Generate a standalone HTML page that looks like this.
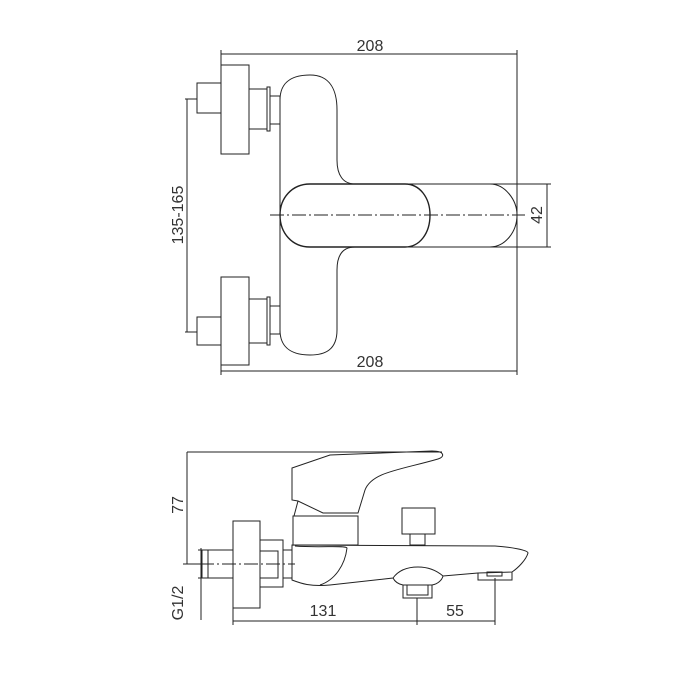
<!DOCTYPE html>
<html><head><meta charset="utf-8"><style>
html,body{margin:0;padding:0;background:#fff;}
svg{display:block;}
text{font-family:"Liberation Sans",sans-serif;font-size:16px;fill:#333;}
</style></head><body>
<svg width="700" height="700" viewBox="0 0 700 700" xmlns="http://www.w3.org/2000/svg">
<g fill="none" stroke="#222" stroke-width="1">
<line x1="221" y1="54" x2="517" y2="54"/>
<line x1="221" y1="50" x2="221" y2="65"/>
<line x1="517" y1="50" x2="517" y2="375"/>
<line x1="221" y1="371" x2="517" y2="371"/>
<line x1="221" y1="365" x2="221" y2="375"/>
<line x1="187" y1="99" x2="187" y2="332"/>
<line x1="185" y1="99" x2="197" y2="99"/>
<line x1="185" y1="332" x2="197" y2="332"/>
<line x1="547" y1="184" x2="547" y2="247"/>
<line x1="490" y1="184" x2="551" y2="184"/>
<line x1="482" y1="247" x2="551" y2="247"/>
<rect x="197" y="83" width="24" height="30"/>
<rect x="221" y="65" width="28" height="89"/>
<rect x="249" y="89" width="18" height="40"/>
<rect x="267" y="87" width="3" height="44"/>
<rect x="270" y="96" width="10" height="28"/>
<rect x="197" y="317" width="24" height="28"/>
<rect x="221" y="277" width="28" height="88"/>
<rect x="249" y="299" width="18" height="44"/>
<rect x="267" y="297" width="3" height="48"/>
<rect x="270" y="306" width="10" height="28"/>
<path d="M280 100 C280 80 295 75 310 75 C330 75 337 90 337 110 L337 160 C337 175 343 184 355 184 L490 184 C505 184 517 200 517 215 C517 232 505 247 490 247 L355 247 C343 247 337 255 337 270 L337 330 C337 350 325 355 310 355 C295 355 280 350 280 330 Z"/>
<path d="M310 184 L405 184 C420 184 430 198 430 215 C430 233 420 247 405 247 L310 247 C292 247 280 233 280 215 C280 198 292 184 310 184 Z" stroke-width="1.4"/>
<line x1="270" y1="215" x2="525" y2="215" stroke-dasharray="14,3,2,3"/>

<line x1="187" y1="452" x2="442" y2="452"/>
<line x1="187" y1="452" x2="187" y2="564"/>
<line x1="183" y1="564" x2="200" y2="564"/>
<line x1="201" y1="548" x2="201" y2="620"/>
<line x1="198" y1="550" x2="206" y2="550"/>
<line x1="198" y1="578" x2="206" y2="578"/>
<line x1="233" y1="605" x2="233" y2="625"/>
<line x1="233" y1="621" x2="495" y2="621"/>
<line x1="417" y1="598" x2="417" y2="625"/>
<line x1="495" y1="578" x2="495" y2="625"/>
<rect x="202" y="550" width="6" height="28"/>
<rect x="208" y="550" width="25" height="28"/>
<rect x="233" y="521" width="27" height="87"/>
<rect x="260" y="540" width="23" height="47"/>
<rect x="260" y="551" width="18" height="27"/>
<rect x="283" y="550" width="9" height="28"/>
<line x1="200" y1="564" x2="295" y2="564" stroke-dasharray="14,3,2,3"/>
<rect x="293" y="516" width="65" height="29"/>
<path d="M292 500 L292 468 L330 455 L432 451 C445 451 445 457 438 459 C400 470 372 472 365 490 L358 513 L323 513 L298 501 Z"/>
<path d="M298 501 L294 516"/>
<path d="M292 545 L495 546 C510 547 528 550 528 553 C526 560 518 568 512 572 L478 573 L443 576 C436 570 428 567 418 567 C406 567 398 571 393 578 L330 585 C310 587 300 583 292 580 Z"/>
<path d="M295 546 C320 548 345 545 347 548 C345 565 335 580 320 585"/>
<rect x="402" y="508" width="33" height="26"/>
<rect x="410" y="534" width="15" height="11"/>
<path d="M393 578 C395 582 398 584 403 585 L432 585 C438 584 442 580 443 576"/>
<rect x="403" y="585" width="29" height="13"/>
<rect x="407" y="585" width="21" height="10"/>
<path d="M478 573 L478 580 L512 580 L512 572"/>
<rect x="487" y="572" width="15" height="4"/>
</g>
<text x="370" y="51" text-anchor="middle">208</text>
<text x="370" y="367" text-anchor="middle">208</text>
<text x="0" y="0" text-anchor="middle" transform="translate(183,215) rotate(-90)">135-165</text>
<text x="0" y="0" text-anchor="middle" transform="translate(542,215) rotate(-90)">42</text>
<text x="0" y="0" text-anchor="middle" transform="translate(183,505) rotate(-90)">77</text>
<text x="0" y="0" text-anchor="middle" transform="translate(183,603) rotate(-90)">G1/2</text>
<text x="323" y="616" text-anchor="middle">131</text>
<text x="455" y="616" text-anchor="middle">55</text>
</svg>
</body></html>
